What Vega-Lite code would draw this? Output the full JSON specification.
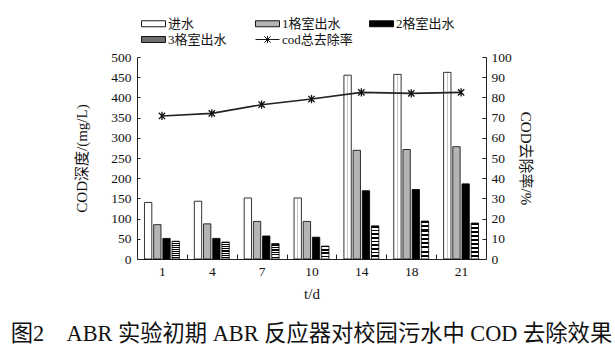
{
  "$schema": "https://vega.github.io/schema/vega-lite/v6.json",
  "width": 349,
  "height": 202,
  "autosize": {"type": "none"},
  "padding": {"left": 137, "top": 57, "right": 129, "bottom": 95},
  "background": "white",
  "title": {
    "text": "图2　ABR 实验初期 ABR 反应器对校园污水中 COD 去除效果",
    "orient": "bottom",
    "anchor": "middle",
    "frame": "group",
    "font": "Liberation Serif, Noto Sans CJK SC",
    "fontSize": 22.3,
    "fontWeight": "normal",
    "color": "#111",
    "offset": 21
  },
  "datasets": {
    "bars": [
      {"t": 1, "series": "进水", "value": 140},
      {"t": 1, "series": "1格室出水", "value": 85},
      {"t": 1, "series": "2格室出水", "value": 51},
      {"t": 1, "series": "3格室出水", "value": 44},
      {"t": 4, "series": "进水", "value": 143},
      {"t": 4, "series": "1格室出水", "value": 87},
      {"t": 4, "series": "2格室出水", "value": 51},
      {"t": 4, "series": "3格室出水", "value": 42},
      {"t": 7, "series": "进水", "value": 151},
      {"t": 7, "series": "1格室出水", "value": 93},
      {"t": 7, "series": "2格室出水", "value": 57},
      {"t": 7, "series": "3格室出水", "value": 38},
      {"t": 10, "series": "进水", "value": 151},
      {"t": 10, "series": "1格室出水", "value": 93},
      {"t": 10, "series": "2格室出水", "value": 54},
      {"t": 10, "series": "3格室出水", "value": 32},
      {"t": 14, "series": "进水", "value": 455},
      {"t": 14, "series": "1格室出水", "value": 269},
      {"t": 14, "series": "2格室出水", "value": 169},
      {"t": 14, "series": "3格室出水", "value": 82},
      {"t": 18, "series": "进水", "value": 457},
      {"t": 18, "series": "1格室出水", "value": 271},
      {"t": 18, "series": "2格室出水", "value": 172},
      {"t": 18, "series": "3格室出水", "value": 94},
      {"t": 21, "series": "进水", "value": 462},
      {"t": 21, "series": "1格室出水", "value": 278},
      {"t": 21, "series": "2格室出水", "value": 186},
      {"t": 21, "series": "3格室出水", "value": 89}
    ],
    "rate": [
      {"t": 1, "series": "cod总去除率", "rate": 70.8},
      {"t": 4, "series": "cod总去除率", "rate": 72.1},
      {"t": 7, "series": "cod总去除率", "rate": 76.4},
      {"t": 10, "series": "cod总去除率", "rate": 79.2},
      {"t": 14, "series": "cod总去除率", "rate": 82.5},
      {"t": 18, "series": "cod总去除率", "rate": 82.0},
      {"t": 21, "series": "cod总去除率", "rate": 82.5}
    ]
  },
  "layer": [
    {
      "data": {"name": "bars"},
      "encoding": {
        "x": {
          "field": "t",
          "type": "ordinal",
          "scale": {"paddingInner": 0.3, "paddingOuter": 0.15},
          "axis": {
            "title": "t/d",
            "labelAngle": 0,
            "tickSize": -5,
            "tickOffset": -24.93,
            "labelOffset": 24.93,
            "labelPadding": 10,
            "titlePadding": 9
          }
        },
        "y": {
          "field": "value",
          "type": "quantitative",
          "scale": {"domain": [0, 500]},
          "axis": {
            "title": "COD深度/(mg/L)",
            "values": [0, 50, 100, 150, 200, 250, 300, 350, 400, 450, 500],
            "tickSize": -3,
            "labelPadding": 9,
            "titlePadding": 21
          }
        }
      },
      "layer": [
        {
          "mark": {"type": "bar", "stroke": "black", "strokeWidth": 0.8},
          "encoding": {
            "xOffset": {
              "field": "series",
              "type": "nominal",
              "scale": {"domain": ["进水", "1格室出水", "2格室出水", "3格室出水"], "paddingInner": 0.2}
            },
            "fill": {
              "condition": [
                {"test": "datum.series === '进水'", "value": {"gradient": "linear", "x1": 0, "y1": 0, "x2": 1, "y2": 0, "stops": [
                  {"offset": 0, "color": "white"}, {"offset": 0.46, "color": "white"},
                  {"offset": 0.46, "color": "#c8c8c8"}, {"offset": 0.54, "color": "#c8c8c8"},
                  {"offset": 0.54, "color": "white"}, {"offset": 1, "color": "white"}]}},
                {"test": "datum.series === '1格室出水'", "value": "#b4b4b4"},
                {"test": "datum.series === '2格室出水'", "value": "black"}
              ],
              "value": {"gradient": "linear", "x1": 0, "y1": 0, "x2": 0, "y2": 1, "stops": [
                {"offset": 0, "color": "black"}, {"offset": 0.0556, "color": "black"}, {"offset": 0.0556, "color": "white"}, {"offset": 0.1111, "color": "white"},
                {"offset": 0.1111, "color": "black"}, {"offset": 0.1667, "color": "black"}, {"offset": 0.1667, "color": "white"}, {"offset": 0.2222, "color": "white"},
                {"offset": 0.2222, "color": "black"}, {"offset": 0.2778, "color": "black"}, {"offset": 0.2778, "color": "white"}, {"offset": 0.3333, "color": "white"},
                {"offset": 0.3333, "color": "black"}, {"offset": 0.3889, "color": "black"}, {"offset": 0.3889, "color": "white"}, {"offset": 0.4444, "color": "white"},
                {"offset": 0.4444, "color": "black"}, {"offset": 0.5, "color": "black"}, {"offset": 0.5, "color": "white"}, {"offset": 0.5556, "color": "white"},
                {"offset": 0.5556, "color": "black"}, {"offset": 0.6111, "color": "black"}, {"offset": 0.6111, "color": "white"}, {"offset": 0.6667, "color": "white"},
                {"offset": 0.6667, "color": "black"}, {"offset": 0.7222, "color": "black"}, {"offset": 0.7222, "color": "white"}, {"offset": 0.7778, "color": "white"},
                {"offset": 0.7778, "color": "black"}, {"offset": 0.8333, "color": "black"}, {"offset": 0.8333, "color": "white"}, {"offset": 0.8889, "color": "white"},
                {"offset": 0.8889, "color": "black"}, {"offset": 0.9444, "color": "black"}, {"offset": 0.9444, "color": "white"}, {"offset": 1, "color": "white"}]}
            }
          }
        },
        {
          "mark": {"type": "point", "opacity": 0, "size": 256, "filled": true},
          "encoding": {
            "fill": {
              "field": "series",
              "type": "nominal",
              "scale": {
                "domain": ["进水", "1格室出水", "2格室出水", "3格室出水", "cod总去除率"],
                "range": ["white", "#b4b4b4", "black", "#6e6e6e", "transparent"]
              },
              "legend": {
                "title": null,
                "orient": "none",
                "legendX": 8,
                "legendY": -42,
                "direction": "horizontal",
                "columns": 3,
                "gridAlign": "all",
                "columnPadding": 14,
                "rowPadding": 0,
                "padding": 0,
                "symbolSize": 256,
                "symbolStrokeWidth": 0.9,
                "symbolOpacity": 1,
                "labelFontSize": 13,
                "labelOffset": 6
              }
            },
            "stroke": {
              "field": "series",
              "type": "nominal",
              "scale": {
                "domain": ["进水", "1格室出水", "2格室出水", "3格室出水", "cod总去除率"],
                "range": ["black", "black", "black", "black", "black"]
              },
              "legend": {
                "title": null,
                "orient": "none",
                "legendX": 8,
                "legendY": -42,
                "direction": "horizontal",
                "columns": 3,
                "gridAlign": "all",
                "columnPadding": 14,
                "rowPadding": 0,
                "padding": 0,
                "symbolSize": 256,
                "symbolStrokeWidth": 0.9,
                "symbolOpacity": 1,
                "labelFontSize": 13,
                "labelOffset": 6
              }
            },
            "shape": {
              "field": "series",
              "type": "nominal",
              "scale": {
                "domain": ["进水", "1格室出水", "2格室出水", "3格室出水", "cod总去除率"],
                "range": [
                  "M-1.5,-0.375H1.5V0.375H-1.5Z",
                  "M-1.5,-0.375H1.5V0.375H-1.5Z",
                  "M-1.5,-0.375H1.5V0.375H-1.5Z",
                  "M-1.5,-0.375H1.5V0.375H-1.5Z",
                  "M-1.5,0H1.5M-0.4,-0.4L0.4,0.4M-0.4,0.4L0.4,-0.4M0,-0.45V0.45"
                ]
              },
              "legend": {
                "title": null,
                "orient": "none",
                "legendX": 8,
                "legendY": -42,
                "direction": "horizontal",
                "columns": 3,
                "gridAlign": "all",
                "columnPadding": 14,
                "rowPadding": 0,
                "padding": 0,
                "symbolSize": 256,
                "symbolStrokeWidth": 0.9,
                "symbolOpacity": 1,
                "labelFontSize": 13,
                "labelOffset": 6
              }
            }
          }
        }
      ]
    },
    {
      "data": {"name": "rate"},
      "mark": {
        "type": "line",
        "color": "#222",
        "strokeWidth": 1.6,
        "point": {"shape": "M-1,-1L1,1M-1,1L1,-1M0,-1.3L0,1.3", "size": 40, "filled": false, "strokeWidth": 1.3, "color": "#111"}
      },
      "encoding": {
        "x": {"field": "t", "type": "ordinal"},
        "y": {
          "field": "rate",
          "type": "quantitative",
          "scale": {"domain": [0, 100]},
          "axis": {
            "orient": "right",
            "title": "COD去除率/%",
            "values": [0, 10, 20, 30, 40, 50, 60, 70, 80, 90, 100],
            "tickSize": -4,
            "labelPadding": 9,
            "titlePadding": 6
          }
        }
      }
    }
  ],
  "resolve": {"scale": {"y": "independent"}},
  "config": {
    "view": {"stroke": null},
    "font": "Liberation Serif, Noto Sans CJK SC",
    "axis": {
      "grid": false,
      "domainColor": "#222",
      "tickColor": "#222",
      "domainWidth": 1,
      "tickWidth": 1,
      "labelFont": "Liberation Serif, Noto Sans CJK SC",
      "labelFontSize": 13.5,
      "labelColor": "#111",
      "titleFont": "Liberation Serif, Noto Sans CJK SC",
      "titleFontSize": 15,
      "titleFontWeight": "normal",
      "titleColor": "#111"
    },
    "legend": {
      "labelFont": "Liberation Serif, Noto Sans CJK SC",
      "labelColor": "#111"
    }
  }
}
